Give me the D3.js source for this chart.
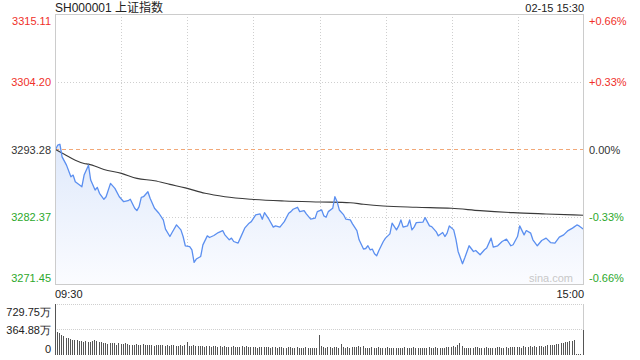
<!DOCTYPE html>
<html><head><meta charset="utf-8">
<script src="https://cdn.jsdelivr.net/npm/d3@7"></script>
<style>
html,body{margin:0;padding:0;background:#fff;}
svg{display:block;font-family:"Liberation Sans","Noto Sans CJK SC",Arial,sans-serif;}
</style></head><body>
<svg id="c" width="640" height="360"></svg>
<script>
const title = "SH000001 上证指数";
const stamp = "02-15 15:30";
const preClose = 3293.28;
const leftTicks = [3315.11, 3304.20, 3293.28, 3282.37, 3271.45];
const rightTicks = ["+0.66%", "+0.33%", "0.00%", "-0.33%", "-0.66%"];
const timeLabels = ["09:30", "15:00"];
const volTicks = [729.75, 364.88, 0];
const volTickLabels = ["729.75万", "364.88万", "0"];

const priceMin = [0,1,2,3,5,7,8,9,12,13,15,16,18,19,20,22,23,25,27,29,31,33,34,36,37,38,39,40,42,43,45,47,49,50,52,53,55,57,58,59,61,62,63,64,66,67,69,70,72,74,76,77,79,80,81,83,84,86,88,89,91,93,94,95,97,99,100,102,104,106,107,108,110,111,113,114,116,118,119,121,122,123,124,126,127,128,129,131,132,134,135,137,138,140,141,142,143,144,145,146,147,149,150,152,153,155,156,157,158,160,161,162,163,164,167,168,170,171,173,174,176,177,178,179,181,182,183,185,186,188,190,191,193,195,196,198,199,201,203,205,207,208,210,211,213,214,216,217,219,221,223,225,227,229,231,233,235,237,238,240];
const prices = [3293.28,3293.97,3294.13,3292.09,3290.76,3288.88,3289.16,3288.08,3287.28,3289.16,
3290.76,3288.35,3286.75,3287.18,3286.22,3285.26,3285.67,3287.82,3287.02,3285.67,
3284.87,3285.03,3285.26,3283.81,3283.43,3284.07,3285.58,3285.67,3286.48,3285.42,
3283.81,3283.01,3281.94,3280.44,3279.26,3279.90,3281.13,3280.33,3279.26,3277.77,
3277.65,3277.12,3275.09,3275.63,3276.05,3277.92,3279.37,3279.10,3279.42,3279.90,
3280.22,3279.53,3278.73,3279.00,3278.46,3278.20,3279.00,3280.61,3281.41,3281.66,
3282.74,3282.90,3282.05,3283.11,3282.05,3280.77,3280.97,3280.77,3281.66,3283.01,
3283.27,3283.65,3283.97,3283.27,3283.43,3282.90,3282.05,3282.21,3283.27,3283.54,
3282.58,3282.37,3283.27,3283.81,3285.67,3284.87,3283.54,3282.74,3282.05,3281.94,
3281.30,3280.22,3278.73,3277.24,3277.33,3277.77,3277.12,3277.24,3276.48,3276.16,
3277.01,3278.46,3279.00,3279.69,3281.41,3280.33,3280.97,3281.94,3280.77,3280.97,
3281.94,3280.33,3280.77,3281.50,3281.57,3282.31,3280.97,3280.86,3280.06,3279.37,
3279.90,3279.26,3279.80,3280.97,3280.33,3278.84,3276.85,3274.88,3275.79,3277.77,
3276.85,3277.01,3276.32,3277.12,3277.40,3279.00,3277.56,3277.77,3278.46,3278.84,
3277.77,3277.93,3279.26,3280.97,3279.53,3280.22,3279.80,3278.73,3277.77,3278.62,
3279.00,3278.29,3278.20,3279.16,3279.53,3280.22,3280.61,3281.13,3280.97,3280.44];

const avgMin = [0,4,9,13,15,22,30,37,45,52,59,68,77,89,104,120,134,140,149,164,180,193,208,223,240];
const avgPrices = [3293.28,3292.53,3291.56,3291.03,3290.92,3290.07,3289.43,3288.63,3288.24,3287.66,3287.10,3286.22,3285.67,3285.26,3284.99,3284.83,3284.71,3284.46,3284.18,3283.97,3283.81,3283.43,3283.11,3282.90,3282.69];

const volumes = [729.75,336,317,290,278,250,248,232,215,210,
209,200,205,192,198,185,190,205,210,195,
192,180,175,170,160,175,178,165,150,170,
160,152,165,158,150,148,145,160,150,140,
152,145,140,148,150,135,140,145,150,138,
130,140,132,145,138,130,128,140,135,145,
190,130,125,140,128,135,130,125,120,132,
128,120,130,125,118,122,110,128,120,112,
118,125,110,115,120,128,118,130,108,112,
115,110,105,118,112,108,110,115,104,112,
108,102,110,115,100,105,112,108,100,104,
110,98,105,102,108,100,96,104,100,95,
288,130,110,105,120,108,100,112,118,105,
161,110,100,115,105,108,112,120,125,115,
131,100,105,98,110,102,100,108,96,104,
100,110,105,100,98,106,100,95,104,108,
100,96,102,110,98,105,100,94,102,100,
108,96,100,118,102,98,104,100,108,112,
120,130,115,140,170,125,105,100,98,104,
100,108,112,98,104,100,110,96,102,106,
100,108,112,98,104,110,100,115,120,108,
112,118,104,125,110,120,128,115,130,112,
125,130,120,135,140,138,145,150,155,160,
165,172,180,190,200,205,210,8,8,8,
355];

const svg = d3.select("#c");
const L = 55, R = 584, T = 14, B = 285;
const VT = 304, VB = 355;
const red = "#f0302a", green = "#2ca82c", dark = "#333";

const x = d3.scaleLinear().domain([0, 240]).range([L + 0.5, R - 0.5]);
const y = d3.scaleLinear().domain([3271.45, 3315.11]).range([B, T]);
const yv = d3.scaleLinear().domain([0, 729.75]).range([VB, VT]);

const defs = svg.append("defs");
const grad = defs.append("linearGradient").attr("id", "g").attr("x1", 0).attr("y1", 0).attr("x2", 0).attr("y2", 1);
grad.append("stop").attr("offset", "0%").attr("stop-color", "#dfe9fb");
grad.append("stop").attr("offset", "100%").attr("stop-color", "#fbfcff");

// grid
const vgrid = d3.range(1, 8).map(k => L + (R - L) * k / 8);
svg.append("g").selectAll("line").data(vgrid).join("line")
  .attr("x1", d => Math.round(d) + 0.5).attr("x2", d => Math.round(d) + 0.5)
  .attr("y1", T).attr("y2", B)
  .attr("stroke", "#cfcfcf").attr("stroke-dasharray", "1,2");
svg.append("g").selectAll("line").data([leftTicks[1], leftTicks[3]]).join("line")
  .attr("x1", L).attr("x2", R)
  .attr("y1", d => Math.round(y(d)) + 0.5).attr("y2", d => Math.round(y(d)) + 0.5)
  .attr("stroke", "#cfcfcf").attr("stroke-dasharray", "1,2");

const pts = d3.zip(priceMin, prices);
// area
svg.append("path").datum(pts)
  .attr("d", d3.area().x(d => x(d[0])).y0(B).y1(d => y(d[1])))
  .attr("fill", "url(#g)");

// preclose line
svg.append("line").attr("x1", L).attr("x2", R)
  .attr("y1", Math.round(y(preClose)) + 0.5).attr("y2", Math.round(y(preClose)) + 0.5)
  .attr("stroke", "#f2a878").attr("stroke-dasharray", "4,3");

// avg line
svg.append("path").datum(d3.zip(avgMin, avgPrices))
  .attr("d", d3.line().curve(d3.curveMonotoneX).x(d => x(d[0])).y(d => y(d[1])))
  .attr("fill", "none").attr("stroke", "#3a3a3a").attr("stroke-width", 1.1);

// price line
svg.append("path").datum(pts)
  .attr("d", d3.line().x(d => x(d[0])).y(d => y(d[1])))
  .attr("fill", "none").attr("stroke", "#5b8ff0").attr("stroke-width", 1.3)
  .attr("stroke-linejoin", "round");

// frame
svg.append("rect").attr("x", L + 0.5).attr("y", T + 0.5).attr("width", R - L - 1).attr("height", B - T - 1)
  .attr("fill", "none").attr("stroke", "#cccccc");

// left axis
const axL = svg.append("g").attr("transform", `translate(${L - 4},0)`)
  .call(d3.axisLeft(y).tickValues(leftTicks).tickSize(0).tickPadding(0).tickFormat(d3.format(".2f")));
axL.select(".domain").remove();
axL.selectAll("text").attr("font-size", 11).attr("font-family", null)
  .attr("fill", (d, i) => i < 2 ? red : (i === 2 ? dark : green))
  .attr("dy", (d, i) => i === 0 ? "0.95em" : (i === 4 ? "-0.3em" : "0.32em"));

// right axis
const yr = d3.scaleOrdinal().domain(rightTicks).range(leftTicks.map(v => y(v)));
const axR = svg.append("g").attr("transform", `translate(${R + 5},0)`)
  .call(d3.axisRight(yr).tickSize(0).tickPadding(0));
axR.select(".domain").remove();
axR.selectAll("text").attr("font-size", 11).attr("font-family", null)
  .attr("fill", (d, i) => i < 2 ? red : (i === 2 ? dark : green))
  .attr("dy", (d, i) => i === 0 ? "0.95em" : (i === 4 ? "-0.3em" : "0.32em"));

// watermark
svg.append("text").attr("x", 573).attr("y", 282).attr("text-anchor", "end")
  .attr("font-size", 11).attr("fill", "#c8c8c8").text("sina.com");

// title
svg.append("text").attr("x", L).attr("y", 11.5).attr("font-size", 12).attr("fill", "#222").text(title);
svg.append("text").attr("x", R).attr("y", 11.5).attr("text-anchor", "end").attr("font-size", 11).attr("fill", "#222").text(stamp);

// time labels
svg.append("text").attr("x", L).attr("y", 297.5).attr("font-size", 11).attr("fill", "#222").text(timeLabels[0]);
svg.append("text").attr("x", R).attr("y", 297.5).attr("text-anchor", "end").attr("font-size", 11).attr("fill", "#222").text(timeLabels[1]);

// volume panel
svg.append("g").selectAll("line").data(volTicks.slice(0, 2)).join("line")
  .attr("x1", L).attr("x2", R)
  .attr("y1", d => Math.round(yv(d)) + 0.5).attr("y2", d => Math.round(yv(d)) + 0.5)
  .attr("stroke", "#cfcfcf").attr("stroke-dasharray", "1,1");
svg.append("line").attr("x1", R - 0.5).attr("x2", R - 0.5).attr("y1", VT).attr("y2", VB).attr("stroke", "#cccccc");

svg.append("g").selectAll("rect").data(volumes).join("rect")
  .attr("x", (d, i) => Math.round(x(i)) - 0.5 < L ? L : Math.round(x(i)) - 1)
  .attr("width", 1)
  .attr("y", d => Math.round(yv(d)))
  .attr("height", d => VB - Math.round(yv(d)))
  .attr("fill", "#555");

const yvo = d3.scaleOrdinal().domain(volTickLabels).range(volTicks.map(v => yv(v)));
const axV = svg.append("g").attr("transform", `translate(${L - 4},0)`)
  .call(d3.axisLeft(yvo).tickSize(0).tickPadding(0));
axV.select(".domain").remove();
axV.selectAll("text").attr("font-size", 11).attr("font-family", null).attr("fill", "#222")
  .attr("dy", (d, i) => i === 0 ? "1.05em" : (i === 2 ? "-0.25em" : "0.4em"));
</script></body></html>
